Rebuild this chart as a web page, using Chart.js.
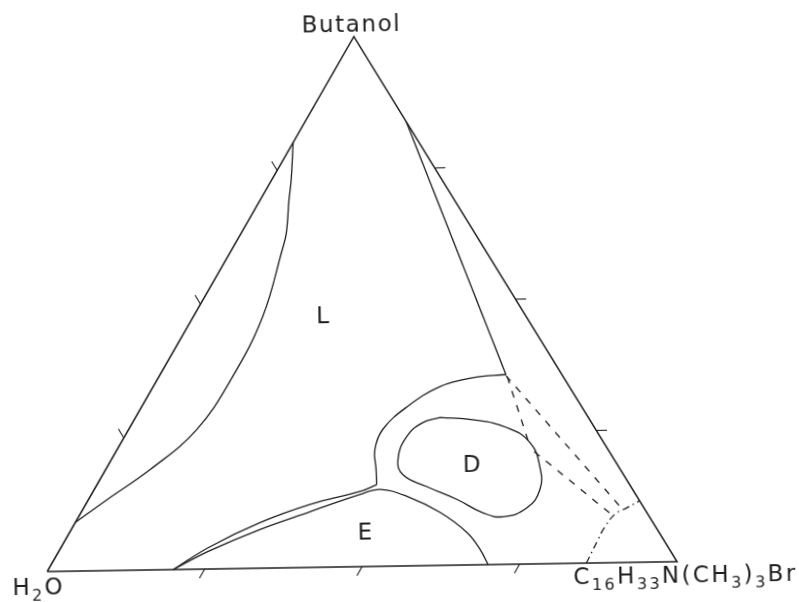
<!DOCTYPE html>
<html lang="en">
<head>
    <meta charset="UTF-8">
    <title>Butanol / H2O / C16H33N(CH3)3Br</title>
    <script src="https://cdn.jsdelivr.net/npm/chart.js"></script>
    <style>
        html, body { margin: 0; padding: 0; background: #fff; overflow: hidden; }
        /* the scanned figure sits slightly tilted */
        #diagram { display: block; transform: rotate(-0.9deg); }
    </style>
</head>
<body>
    <canvas id="diagram" width="799" height="602"></canvas>
    <script>
        // compositions as [C16H33N(CH3)3Br %, butanol %]; water is the rest
        const tickValues = [25, 50, 75];
        const leftPhase = [[0, 80.2], [3.1, 73.2], [4.6, 69.4], [7.2, 63.2], [8.1, 60.0], [11.1, 47.5],
            [11.8, 36.2], [10.9, 26.3], [7.1, 18.9], [3.0, 13.4], [0, 9.2]];
        const lBoundary = [[16.2, 83.8], [55.4, 35.8]];
        const lArc = [[55.4, 35.8], [50.4, 35.3], [45.9, 33.7], [42.5, 30.0], [40.7, 25.8],
            [41.3, 22.0], [43.3, 18.3], [44.8, 15.4]];
        const bandUpper = [[44.8, 15.4], [42.8, 14.2], [36.0, 11.9], [29.6, 8.6], [23.8, 4.2], [20, 0]];
        const bandLowerE = [[20, 0], [24.2, 3.5], [30.2, 7.3], [36.6, 10.5], [43.0, 13.6], [45.8, 14.5],
            [50.8, 13.1], [57.5, 10.0], [63.7, 6.1], [67.3, 2.9], [70, 0]];
        const dLoop = [[48.8, 27.9], [54.2, 27.4], [60.4, 25.8], [65.5, 22.9], [69.3, 18.3], [71.4, 14.0],
            [71.0, 10.6], [68.0, 9.0], [64.4, 9.8], [59.0, 12.4], [53.0, 14.9], [48.1, 17.2],
            [45.9, 20.1], [45.2, 24.4], [46.5, 27.0], [48.8, 27.9]];
        const tieA = [[55.8, 35.4], [65.3, 22.9]];
        const tieB = [[55.5, 35.6], [86.0, 10.4]];
        const tieC = [[67.0, 21.2], [85.3, 9.0]];
        const dashDotLine = [[85.6, 0], [85.3, 4.4], [85.2, 6.6], [85.7, 9.2], [87.0, 10.3], [88.4, 11.6]];
        const regionNames = ['L', 'D', 'E'];
        const regionPoints = [[20.8, 47.1], [58.3, 18.7], [47.4, 6.2]];

        const INK = '#1e1e1e';
        const H = Math.sqrt(3) / 2;
        const TICK = 1.7;
        const MAIN_FONT = '23px "DejaVu Sans", sans-serif';
        const SUB_FONT = '16px "DejaVu Sans", sans-serif';

        function tern(p) {
            return { x: p[0] + p[1] / 2, y: p[1] * H };
        }

        function line(points, extra) {
            return Object.assign({
                data: points.map(tern),
                showLine: true,
                borderColor: INK,
                borderWidth: 1.3,
                pointRadius: 0,
                tension: 0,
                fill: false,
                clip: false
            }, extra || {});
        }

        const datasets = [
            line([[0, 0], [100, 0], [0, 100], [0, 0]], { borderWidth: 1.5 }),
            line(leftPhase, { tension: 0.4 }),
            line(lBoundary),
            line(lArc, { tension: 0.4 }),
            line(bandUpper, { tension: 0.4 }),
            line(bandLowerE, { tension: 0.4 }),
            line(dLoop, { tension: 0.45 }),
            line(tieA, { borderDash: [7, 8] }),
            line(tieB, { borderDash: [7, 8] }),
            line(tieC, { borderDash: [7, 8] }),
            line(dashDotLine, { tension: 0.4, borderDash: [7, 4, 1.5, 4] })
        ];

        // short ticks outside each side, along the lines of constant composition
        tickValues.forEach(t => {
            datasets.push(line([[0, t], [-TICK, t + TICK]], { borderWidth: 1.1 }));
            datasets.push(line([[100 - t, t], [100 - t + TICK, t]], { borderWidth: 1.1 }));
            datasets.push(line([[t, 0], [t, -TICK]], { borderWidth: 1.1 }));
        });

        // text with subscripts, spread to a given width
        function drawRich(ctx, runs, left, base, width) {
            const chars = [];
            runs.forEach(r => {
                for (const ch of r[0]) chars.push({ ch: ch, sub: r[1] });
            });
            let natural = 0;
            chars.forEach(c => {
                ctx.font = c.sub ? SUB_FONT : MAIN_FONT;
                c.w = ctx.measureText(c.ch).width;
                natural += c.w;
            });
            const gap = chars.length > 1 ? (width - natural) / (chars.length - 1) : 0;
            let x = left;
            chars.forEach(c => {
                ctx.font = c.sub ? SUB_FONT : MAIN_FONT;
                ctx.fillText(c.ch, x, base + (c.sub ? 6 : 0));
                x += c.w + gap;
            });
        }

        const labelsPlugin = {
            id: 'ternaryLabels',
            afterDatasetsDraw(chart) {
                const ctx = chart.ctx;
                const xs = chart.scales.x, ys = chart.scales.y;
                const px = p => {
                    const q = tern(p);
                    return [xs.getPixelForValue(q.x), ys.getPixelForValue(q.y)];
                };
                ctx.save();
                ctx.fillStyle = INK;

                ctx.textAlign = 'center';
                ctx.textBaseline = 'middle';
                ctx.font = MAIN_FONT;
                regionNames.forEach((name, i) => {
                    const p = px(regionPoints[i]);
                    ctx.fillText(name, p[0], p[1]);
                });

                ctx.textAlign = 'left';
                ctx.textBaseline = 'alphabetic';
                const top = px([0, 100]);
                const water = px([0, 0]);
                const surf = px([100, 0]);
                drawRich(ctx, [['Butanol', false]], top[0] - 52, top[1] - 5, 98);
                drawRich(ctx, [['H', false], ['2', true], ['O', false]], water[0] - 35, water[1] + 23, 50);
                drawRich(ctx, [['C', false], ['16', true], ['H', false], ['33', true], ['N(CH', false],
                    ['3', true], [')', false], ['3', true], ['Br', false]], surf[0] - 104, surf[1] + 21, 222);
                ctx.restore();
            }
        };

        new Chart(document.getElementById('diagram'), {
            type: 'scatter',
            data: { datasets: datasets },
            options: {
                responsive: false,
                animation: false,
                layout: { padding: { left: 43, right: 126, top: 36, bottom: 36 } },
                scales: {
                    x: { display: false, min: 0, max: 100 },
                    y: { display: false, min: 0, max: 86.6 }
                },
                plugins: {
                    legend: { display: false },
                    tooltip: { enabled: false }
                }
            },
            plugins: [labelsPlugin]
        });
    </script>
</body>
</html>
